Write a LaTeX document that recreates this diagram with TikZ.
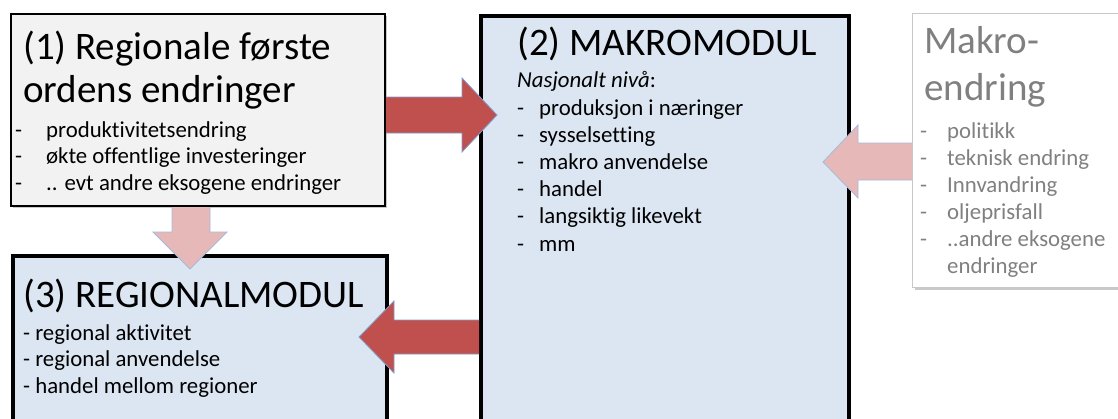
\documentclass[tikz,border=0pt]{standalone}
\usepackage{fontspec}
\setmainfont[Ligatures={NoCommon}]{Carlito}
\usetikzlibrary{shadows}
\definecolor{boxblue}{HTML}{DCE6F2}
\definecolor{boxgray}{HTML}{F2F2F2}
\definecolor{arrred}{HTML}{C0504D}
\definecolor{arrpink}{HTML}{E6B9B8}
\definecolor{arredge}{HTML}{7F9CCB}
\definecolor{softtext}{HTML}{808080}
\definecolor{softedge}{HTML}{C8C8C8}
\begin{document}
\begin{tikzpicture}[x=1pt,y=-1pt,
  box/.style={rectangle, inner sep=0pt, anchor=north west,
    drop shadow={shadow xshift=2pt, shadow yshift=-2pt, opacity=0.35, fill=black!60}},
  title/.style={anchor=base west, inner sep=0pt, font=\fontsize{39}{43}\selectfont},
  item/.style={anchor=base west, inner sep=0pt, font=\fontsize{22.8}{27}\selectfont},
  redarrow/.style={fill=arrred, draw=arredge, line width=0.8pt, line join=miter},
  pinkarrow/.style={fill=arrpink, draw=arredge!70, line width=0.8pt, line join=miter}]
\useasboundingbox (0,0) rectangle (1118,418);
\fill[white] (0,0) rectangle (1118,418);

% boxes
\node[box, draw=black, line width=2pt, fill=boxgray, minimum width=374pt, minimum height=192pt] (b1) at (10,13) {};
\node[box, draw=black, line width=4pt, fill=boxblue, minimum width=368pt, minimum height=430pt] (b2) at (479,14) {};
\node[box, draw=black, line width=4pt, fill=boxblue, minimum width=374pt, minimum height=200pt] (b3) at (11,254) {};
\node[box, draw=softedge, line width=1pt, fill=white, minimum width=230pt, minimum height=274pt] (b4) at (912,13) {};

% box 1 text
\node[title] (t1a) at (23,59) {(1) Regionale første};
\node[title] (t1b) at (23,102) {ordens endringer};
\foreach \t [count=\i] in {produktivitetsendring, økte offentlige investeringer, .. evt andre eksogene endringer}
  \node[item] (l1\i) at (15,137+26.5*\i-26.5) {\makebox[31pt][l]{-}\t};

% box 2 text
\node[title] (t2) at (517,55) {(2) MAKROMODUL};
\node[item] (n2) at (517,87) {\textit{Nasjonalt nivå}:};
\foreach \t [count=\i] in {produksjon i næringer, sysselsetting, makro anvendelse, handel, langsiktig likevekt, mm}
  \node[item] (l2\i) at (517,115+27.2*\i-27.2) {\makebox[22pt][l]{-}\t};

% box 3 text
\node[title] (t3) at (23,307) {(3) REGIONALMODUL};
\foreach \t [count=\i] in {regional aktivitet, regional anvendelse, handel mellom regioner}
  \node[item] (l3\i) at (23,340+26.7*\i-26.7) {- \t};

% box 4 text
\node[title, text=softtext] (t4a) at (924,53) {Makro-};
\node[title, text=softtext] (t4b) at (924,100) {endring};
\foreach \t [count=\i] in {politikk, teknisk endring, Innvandring, oljeprisfall, ..andre eksogene}
  \node[item, text=softtext] (l4\i) at (920,138+27*\i-27) {\makebox[27pt][l]{-}\t};
\node[item, text=softtext] (l46) at (947,273) {endringer};

% arrows
\draw[redarrow] (b1.east |- 0,97) -- (462,97) -- (462,78) -- (497,115) -- (462,152) -- (462,133) -- (b1.east |- 0,133);
\draw[redarrow] (b2.west |- 0,320) -- (394,320) -- (394,301) -- (359,337) -- (394,373) -- (394,354) -- (b2.west |- 0,354);
\draw[pinkarrow] (172,207) -- (172,232) -- (153,232) -- (190,269) -- (227,232) -- (210,232) -- (210,207);
\draw[pinkarrow] (b4.west |- 0,143) -- (858,143) -- (858,125) -- (823,162) -- (858,198) -- (858,180) -- (b4.west |- 0,180);
\end{tikzpicture}
\end{document}
